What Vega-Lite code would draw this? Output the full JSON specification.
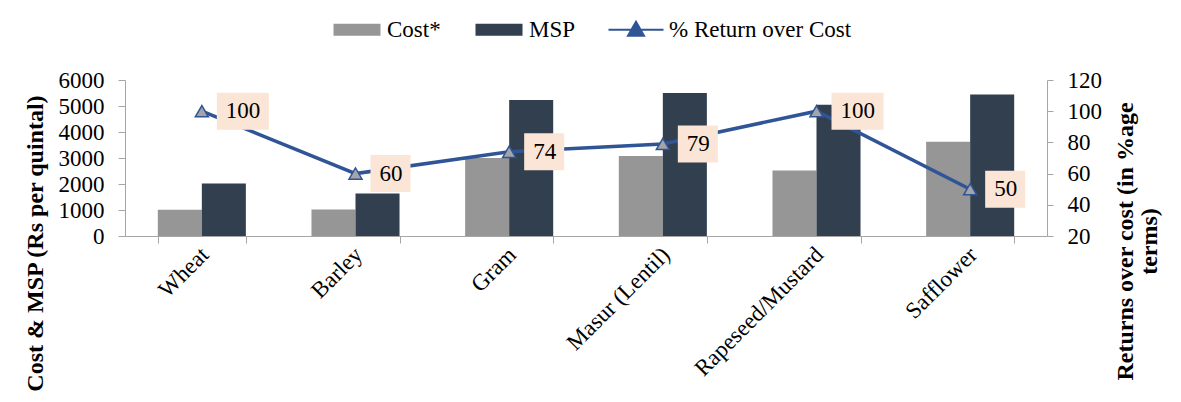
{
  "$schema": "https://vega.github.io/schema/vega-lite/v6.json",
  "width": 922,
  "height": 156,
  "autosize": {"type": "none"},
  "padding": {"left": 125, "top": 80, "right": 134, "bottom": 166},
  "background": "white",
  "config": {
    "font": "Liberation Serif",
    "view": {"stroke": null},
    "axis": {
      "labelFont": "Liberation Serif",
      "labelFontSize": 23,
      "labelColor": "black",
      "domainColor": "#a6a6a6",
      "tickColor": "#a6a6a6",
      "grid": false,
      "titleFont": "Liberation Serif",
      "titleFontSize": 24,
      "titleFontWeight": "bold",
      "titleColor": "black",
      "labelLimit": 0
    },
    "legend": {"labelFont": "Liberation Serif", "labelFontSize": 23, "labelColor": "black", "labelLimit": 0}
  },
  "datasets": {
    "bars": [
      {"crop": "Wheat", "series": "Cost*", "value": 1008},
      {"crop": "Wheat", "series": "MSP", "value": 2015},
      {"crop": "Barley", "series": "Cost*", "value": 1019},
      {"crop": "Barley", "series": "MSP", "value": 1635},
      {"crop": "Gram", "series": "Cost*", "value": 3004},
      {"crop": "Gram", "series": "MSP", "value": 5230},
      {"crop": "Masur (Lentil)", "series": "Cost*", "value": 3079},
      {"crop": "Masur (Lentil)", "series": "MSP", "value": 5500},
      {"crop": "Rapeseed/Mustard", "series": "Cost*", "value": 2523},
      {"crop": "Rapeseed/Mustard", "series": "MSP", "value": 5050},
      {"crop": "Safflower", "series": "Cost*", "value": 3627},
      {"crop": "Safflower", "series": "MSP", "value": 5441}
    ],
    "ret": [
      {"crop": "Wheat", "ret": 100},
      {"crop": "Barley", "ret": 60},
      {"crop": "Gram", "ret": 74},
      {"crop": "Masur (Lentil)", "ret": 79},
      {"crop": "Rapeseed/Mustard", "ret": 100},
      {"crop": "Safflower", "ret": 50}
    ]
  },
  "encoding": {
    "x": {
      "field": "crop",
      "type": "nominal",
      "sort": ["Wheat", "Barley", "Gram", "Masur (Lentil)", "Rapeseed/Mustard", "Safflower"],
      "scale": {"paddingInner": 0.427, "paddingOuter": 0.2135},
      "axis": {"title": null, "labelAngle": -45, "tickBand": "extent", "tickSize": 7, "labelPadding": 0, "labelOffset": -5}
    }
  },
  "layer": [
    {
      "data": {"name": "bars"},
      "mark": {"type": "bar"},
      "encoding": {
        "xOffset": {"field": "series", "type": "nominal", "sort": ["Cost*", "MSP"], "scale": {"paddingInner": 0, "paddingOuter": 0}},
        "y": {
          "field": "value",
          "type": "quantitative",
          "scale": {"domain": [0, 6000]},
          "axis": {
            "orient": "left",
            "values": [0, 1000, 2000, 3000, 4000, 5000, 6000],
            "format": "d",
            "tickSize": 7,
            "labelPadding": 14,
            "title": "Cost & MSP (Rs per quintal)",
            "titleAngle": 270,
            "titleBaseline": "bottom",
            "titlePadding": 11,
            "titleY": 163
          }
        },
        "color": {
          "field": "series",
          "type": "nominal",
          "scale": {"domain": ["Cost*", "MSP", "% Return over Cost"], "range": ["#969696", "#323f4f", "#2f5597"]},
          "legend": {
            "title": null,
            "orient": "none",
            "direction": "horizontal",
            "legendX": 202,
            "legendY": -62,
            "padding": 0,
            "symbolSize": 100,
            "labelOffset": 37,
            "columnPadding": 28,
            "labelFontSize": 23,
            "labelLimit": 0,
            "encode": {
              "symbols": {
                "update": {
                  "shape": {"signal": "datum.value === '% Return over Cost' ? 'M-2.4,0L8.6,0M3.1,-1.6L4.7,1.2L1.5,1.2Z' : 'M-1,-1.2L8.4,-1.2L8.4,1.2L-1,1.2Z'"},
                  "stroke": {"signal": "datum.value === '% Return over Cost' ? '#2f5597' : 'transparent'"},
                  "strokeWidth": {"signal": "datum.value === '% Return over Cost' ? 2 : 0"},
                  "size": {"value": 100},
                  "opacity": {"value": 1},
                  "fillOpacity": {"value": 1},
                  "strokeOpacity": {"value": 1}
                }
              }
            }
          }
        }
      }
    },
    {
      "data": {"name": "ret"},
      "encoding": {
        "y": {
          "field": "ret",
          "type": "quantitative",
          "scale": {"domain": [20, 120]},
          "axis": {
            "orient": "right",
            "values": [20, 40, 60, 80, 100, 120],
            "tickSize": 6,
            "labelPadding": 14,
            "title": ["Returns over cost (in %age", "terms)"],
            "titleAngle": 270,
            "titleBaseline": "top",
            "titleAlign": "center",
            "titlePadding": -12,
            "titleY": 161,
            "titleLineHeight": 24
          }
        }
      },
      "layer": [
        {"mark": {"type": "line", "strokeWidth": 3.5}, "encoding": {"color": {"datum": "% Return over Cost", "type": "nominal"}}},
        {"mark": {"type": "point", "shape": "triangle-up", "filled": true, "fill": "#a5a5a5", "stroke": "#2f5597", "strokeWidth": 1.5, "size": 170, "opacity": 1}},
        {
          "mark": {"type": "point", "filled": true, "fill": "#fbe5d6", "size": 400, "opacity": 1, "strokeWidth": 0},
          "encoding": {
            "shape": {
              "condition": {"test": "datum.ret >= 100", "value": "M1.5,-1.85L6.7,-1.85L6.7,1.85L1.5,1.85Z"},
              "value": "M1.5,-1.85L5.5,-1.85L5.5,1.85L1.5,1.85Z"
            }
          }
        },
        {
          "mark": {"type": "text", "align": "left", "baseline": "middle", "dx": 24, "fontSize": 23, "color": "black"},
          "encoding": {"text": {"field": "ret", "type": "quantitative"}}
        }
      ]
    }
  ],
  "resolve": {"scale": {"y": "independent"}}
}
